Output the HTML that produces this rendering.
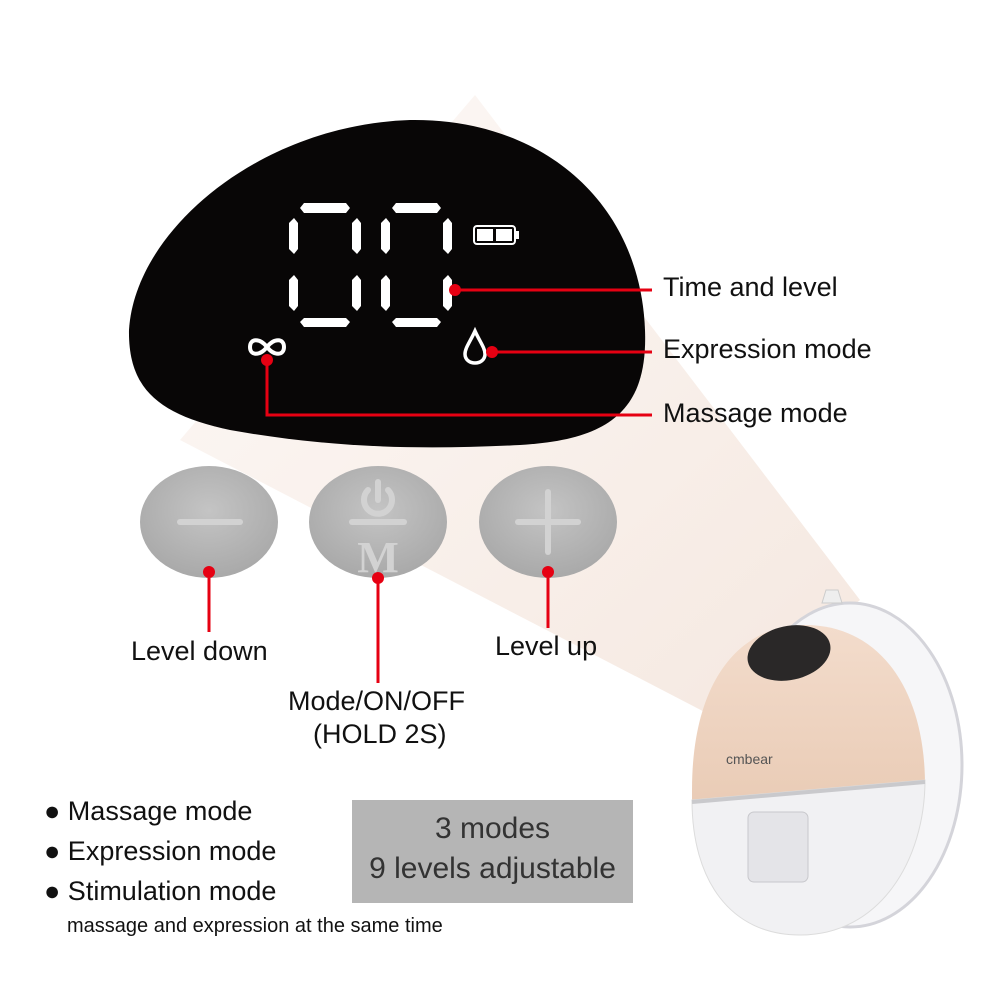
<!DOCTYPE html>
<html><head><style>
body{margin:0;width:1000px;height:1000px;background:#fff;overflow:hidden;font-family:"Liberation Sans",sans-serif}
svg{position:absolute;left:0;top:0}
.t{position:absolute;font-size:27px;color:#111;white-space:nowrap}
</style></head><body>
<svg width="1000" height="1000" viewBox="0 0 1000 1000">
<defs>
<linearGradient id="beam" x1="0" y1="0" x2="1" y2="1">
<stop offset="0" stop-color="#fdf9f7"/><stop offset="1" stop-color="#f5e8e0"/></linearGradient>
<radialGradient id="btn" cx="0.5" cy="0.4" r="0.6"><stop offset="0" stop-color="#c4c4c4"/><stop offset="1" stop-color="#a9a9a9"/></radialGradient>
<linearGradient id="body" x1="0" y1="0" x2="0" y2="1"><stop offset="0" stop-color="#f3dccc"/><stop offset="1" stop-color="#e9cbb5"/></linearGradient>
</defs>
<polygon points="475,95 860,600 720,720 180,440" fill="url(#beam)"/>
<path d="M129,330 C135,230 260,125 410,120 C540,118 640,200 645,330 C648,410 610,440 520,445 C420,450 330,448 230,430 C160,415 128,390 129,330 Z" fill="#080606"/>
<g fill="#fff">
<polygon points="304,203 346,203 350,208 346,213 304,213 300,208"/>
<polygon points="304,318 346,318 350,322 346,327 304,327 300,322"/>
<polygon points="289,223 294,218 298,223 298,249 294,254 289,249"/>
<polygon points="352,223 357,218 361,223 361,249 357,254 352,249"/>
<polygon points="289,280 294,275 298,280 298,306 294,311 289,306"/>
<polygon points="352,280 357,275 361,280 361,306 357,311 352,306"/>
<polygon points="396,203 437,203 441,208 437,213 396,213 392,208"/>
<polygon points="396,318 437,318 441,322 437,327 396,327 392,322"/>
<polygon points="381,223 386,218 390,223 390,249 386,254 381,249"/>
<polygon points="443,223 448,218 452,223 452,249 448,254 443,249"/>
<polygon points="381,280 386,275 390,280 390,306 386,311 381,306"/>
<polygon points="443,280 448,275 452,280 452,306 448,311 443,306"/>
</g>
<rect x="474" y="226" width="41" height="18" rx="3" fill="none" stroke="#fff" stroke-width="2"/>
<rect x="515" y="231" width="4" height="8" fill="#fff"/>
<rect x="477" y="229" width="16" height="12" fill="#fff"/><rect x="496" y="229" width="16" height="12" fill="#fff"/>
<path d="M267,347 C260,338 250,338 250,347 C250,356 260,356 267,347 C274,338 284,338 284,347 C284,356 274,356 267,347Z" fill="none" stroke="#fff" stroke-width="4"/>
<path d="M475,331 C470,342 465,348 465,354 C465,360 470,363 475,363 C480,363 485,360 485,354 C485,348 480,342 475,331Z" fill="none" stroke="#fff" stroke-width="3.5"/>
<g stroke="#e60012" stroke-width="3" fill="none">
<polyline points="455,290 652,290"/>
<polyline points="492,352 652,352"/>
<polyline points="267,360 267,415 652,415"/>
<line x1="209" y1="572" x2="209" y2="632"/>
<line x1="378" y1="578" x2="378" y2="683"/>
<line x1="548" y1="572" x2="548" y2="628"/>
</g>
<ellipse cx="209" cy="522" rx="69" ry="56" fill="url(#btn)"/>
<ellipse cx="378" cy="522" rx="69" ry="56" fill="url(#btn)"/>
<ellipse cx="548" cy="522" rx="69" ry="56" fill="url(#btn)"/>
<g fill="#e60012">
<circle cx="455" cy="290" r="6"/><circle cx="492" cy="352" r="6"/><circle cx="267" cy="360" r="6"/>
<circle cx="209" cy="572" r="6"/><circle cx="378" cy="578" r="6"/><circle cx="548" cy="572" r="6"/>
</g>
<g stroke="#d2d2d2" stroke-width="6" stroke-linecap="round" fill="none">
<line x1="180" y1="522" x2="240" y2="522"/>
<line x1="518" y1="522" x2="578" y2="522"/><line x1="548" y1="492" x2="548" y2="552"/>
<path d="M368,490 A14,14 0 1 0 388,490"/><line x1="378" y1="482" x2="378" y2="500"/>
<line x1="352" y1="522" x2="404" y2="522"/>
</g>
<text x="378" y="572" font-family="Liberation Serif" font-weight="bold" font-size="44" fill="#d2d2d2" text-anchor="middle">M</text>
<rect x="352" y="800" width="281" height="103" fill="#b5b5b5"/>
<!-- product -->
<ellipse cx="850" cy="765" rx="112" ry="162" fill="#f6f6f8" stroke="#d4d4da" stroke-width="3"/>
<path d="M822,603 L826,590 L838,590 L842,603Z" fill="#eee" stroke="#ccc"/>
<path d="M692,790 C692,680 740,625 805,625 C880,625 925,690 925,785 L692,810Z" fill="url(#body)"/>
<path d="M692,800 L925,780 C925,860 880,935 800,935 C730,935 692,880 692,800Z" fill="#f1f1f3" stroke="#dcdcdc"/>
<path d="M692,802 L925,782" stroke="#c9c9cc" stroke-width="4"/>
<rect x="748" y="812" width="60" height="70" rx="6" fill="#e4e4e8" stroke="#c8c8cc"/>
<ellipse cx="789" cy="653" rx="42" ry="27" fill="#2a2828" transform="rotate(-12 789 653)"/>
<text x="726" y="764" font-size="14" fill="#555">cmbear</text>
</svg>
<div class="t" style="left:663px;top:272px">Time and level</div>
<div class="t" style="left:663px;top:334px">Expression mode</div>
<div class="t" style="left:663px;top:398px">Massage mode</div>
<div class="t" style="left:131px;top:636px">Level down</div>
<div class="t" style="left:495px;top:631px">Level up</div>
<div class="t" style="left:288px;top:686px">Mode/ON/OFF</div>
<div class="t" style="left:313px;top:719px">(HOLD 2S)</div>
<div class="t" style="left:44px;top:796px">● Massage mode</div>
<div class="t" style="left:44px;top:836px">● Expression mode</div>
<div class="t" style="left:44px;top:876px">● Stimulation mode</div>
<div class="t" style="left:67px;top:915px;font-size:20px">massage and expression at the same time</div>
<div class="t" style="left:352px;top:812px;width:281px;text-align:center;font-size:30px;color:#333">3 modes</div>
<div class="t" style="left:352px;top:852px;width:281px;text-align:center;font-size:30px;color:#333">9 levels adjustable</div>
</body></html>
